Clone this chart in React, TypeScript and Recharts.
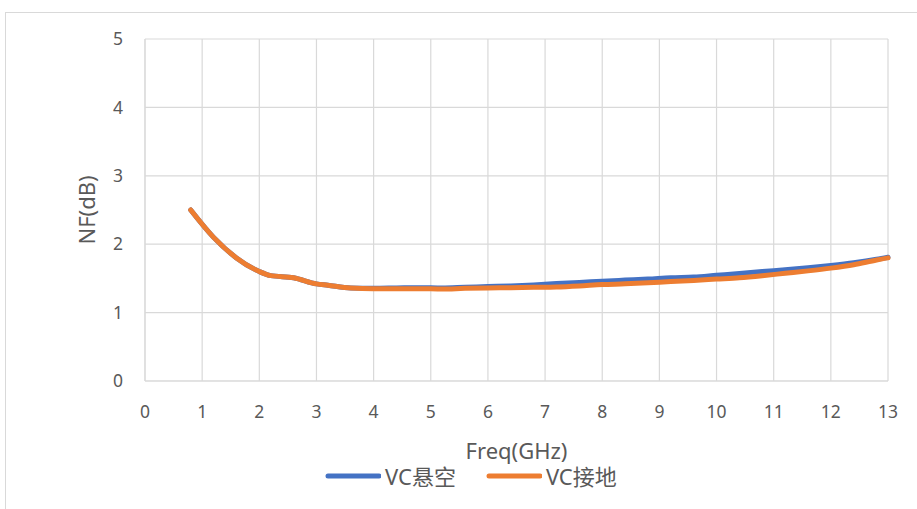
import React from 'react';
import { LineChart, Line, XAxis, YAxis, CartesianGrid, Legend } from 'recharts';

const freqs = [0.8, 1.2, 1.6, 2.0, 2.2, 2.6, 3.0, 3.2, 3.6, 4.0, 4.4, 4.8, 5.2, 5.6, 6.0, 6.4, 6.8, 7.2, 7.6, 8.0, 8.4, 8.8, 9.2, 9.6, 10.0, 10.4, 10.8, 11.2, 11.6, 12.0, 12.4, 12.8, 13.0];
const vcFloating = [2.5, 2.1, 1.8, 1.6, 1.54, 1.51, 1.42, 1.4, 1.36, 1.355, 1.36, 1.365, 1.36, 1.37, 1.38, 1.39, 1.405, 1.425, 1.44, 1.46, 1.475, 1.49, 1.51, 1.52, 1.545, 1.57, 1.6, 1.625, 1.655, 1.69, 1.73, 1.78, 1.81];
const vcGrounded = [2.5, 2.1, 1.8, 1.6, 1.54, 1.51, 1.42, 1.4, 1.36, 1.35, 1.35, 1.35, 1.345, 1.355, 1.36, 1.365, 1.37, 1.375, 1.39, 1.41, 1.42, 1.435, 1.455, 1.47, 1.49, 1.51, 1.54, 1.575, 1.61, 1.65, 1.7, 1.77, 1.8];
const xTicks = [0, 1, 2, 3, 4, 5, 6, 7, 8, 9, 10, 11, 12, 13];
const yTicks = [0, 1, 2, 3, 4, 5];
const seriesNames = ['VC悬空', 'VC接地'];
const seriesColors = ['#4472C4', '#ED7D31'];

const data = freqs.map((f, i) => ({ f, a: vcFloating[i], b: vcGrounded[i] }));

const FONT = '"Noto Sans", "Noto Sans CJK SC", sans-serif';
const TXT = '#595959';

const renderLegend = (props: any) => {
  const payload = props.payload || [];
  return (
    <div style={{ display: 'flex', alignItems: 'center', fontFamily: FONT, fontSize: 22, color: TXT, lineHeight: '28px', whiteSpace: 'nowrap' }}>
      {payload.map((p: any, i: number) => (
        <div key={i} style={{ display: 'flex', alignItems: 'center', marginRight: 30 }}>
          <svg width={56} height={10} style={{ marginRight: 4 }}>
            <line x1={3} y1={5} x2={54} y2={5} stroke={p.color} strokeWidth={5} strokeLinecap="round" />
          </svg>
          <span>{p.value}</span>
        </div>
      ))}
    </div>
  );
};

export default function App() {
  return (
    <div style={{ position: 'absolute', left: 0, top: 0, width: 917, height: 509, background: '#fff', overflow: 'hidden' }}>
      <div style={{ position: 'absolute', left: 5, top: 12, width: 940, height: 520, border: '1px solid #d9d9d9', boxSizing: 'border-box' }} />
      <LineChart width={917} height={509} data={data} margin={{ top: 39, right: 29, left: 0, bottom: 0 }} style={{ position: 'absolute', left: 0, top: 0 }}>
        <CartesianGrid stroke="#d9d9d9" strokeWidth={1.2} />
        <XAxis
          dataKey="f"
          type="number"
          domain={[0, 13]}
          ticks={xTicks}
          interval={0}
          height={128}
          tickSize={0}
          tickMargin={25}
          axisLine={{ stroke: '#d9d9d9' }}
          tick={{ fill: TXT, fontSize: 17.5, fontFamily: FONT }}
          label={{ value: 'Freq(GHz)', position: 'insideTop', offset: 62, style: { fill: TXT, fontSize: 22, fontFamily: FONT } }}
        />
        <YAxis
          type="number"
          domain={[0, 5]}
          ticks={yTicks}
          interval={0}
          width={145}
          tickSize={0}
          tickMargin={22}
          axisLine={{ stroke: '#d9d9d9' }}
          tick={{ fill: TXT, fontSize: 17.5, fontFamily: FONT }}
          label={{ value: 'NF(dB)', angle: -90, position: 'insideLeft', offset: 87, style: { fill: TXT, fontSize: 22, fontFamily: FONT, textAnchor: 'middle' } }}
        />
        <Legend
          layout="horizontal"
          verticalAlign="middle"
          align="center"
          content={renderLegend}
          wrapperStyle={{ position: 'absolute', top: 462, left: 325, width: 430 }}
        />
        <Line type="monotone" dataKey="a" name={seriesNames[0]} stroke={seriesColors[0]} strokeWidth={5} dot={false} isAnimationActive={false} strokeLinecap="round" />
        <Line type="monotone" dataKey="b" name={seriesNames[1]} stroke={seriesColors[1]} strokeWidth={5} dot={false} isAnimationActive={false} strokeLinecap="round" />
      </LineChart>
    </div>
  );
}
